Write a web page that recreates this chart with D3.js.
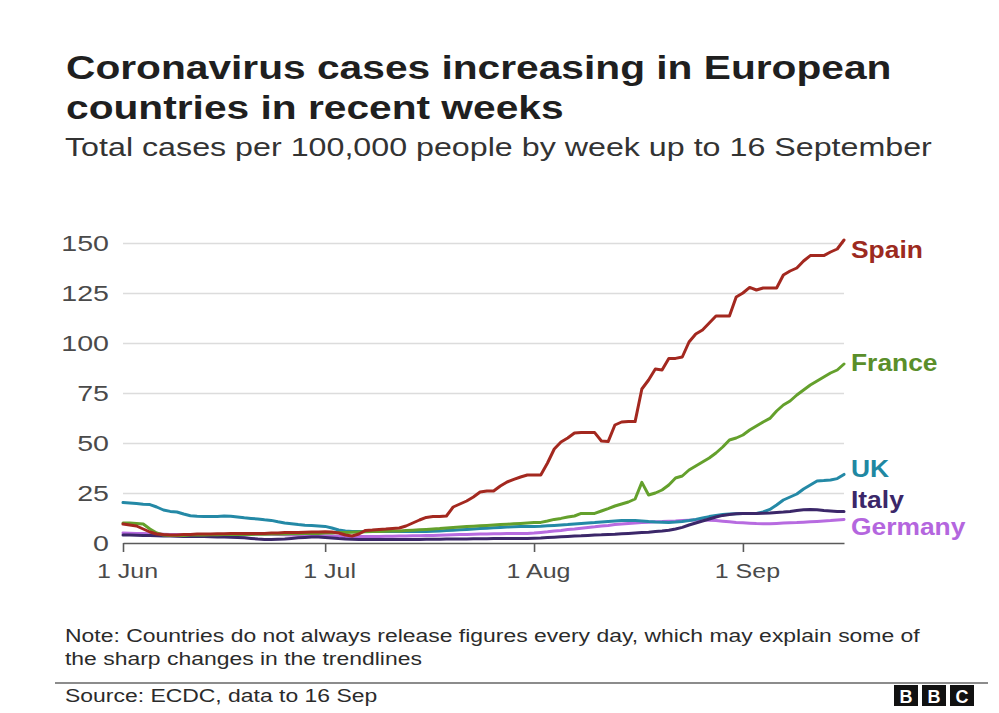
<!DOCTYPE html>
<html>
<head>
<meta charset="utf-8">
<script src="https://cdn.jsdelivr.net/npm/d3@7"></script>
<style>
    body { margin: 0; background: #fff; }
    svg text { font-family: "Liberation Sans", Arial, Helvetica, sans-serif; }
</style>
</head>
<body>
<div class="line-chart"></div>
<script>
// DATA ------------------------------------

// daily values, 1 Jun to 16 Sep 2020 (cases per 100,000, 14-day total)
const startDay = "2020-06-01"
const endDay = "2020-09-16"

const spain = [
    9.5, 9, 8.5, 7, 5.5, 4.5, 4.2, 4, 4, 4.2, 4.3, 4.5, 4.5, 4.5, 4.6, 4.6, 4.8, 4.8, 4.8, 4.7, 4.7, 4.8, 5, 5, 5.2, 5.2, 5.3, 5.4, 5.5, 5.5,
    5.6, 5.5, 5, 4, 3.5, 4.5, 6.3, 6.5, 6.8, 7, 7.3, 7.5, 8.5, 10, 11.5, 12.8, 13.2, 13.3, 13.5, 18, 19.5, 21, 23, 25.5, 26, 26, 28.5, 30.5, 31.8, 33, 34,
    34, 34, 40, 47, 50.5, 52.5, 55, 55.2, 55.2, 55.2, 51, 50.7, 59, 60.5, 60.7, 60.7, 77, 81.5, 87, 86.5, 92.3, 92.3, 93, 100.5, 104.5, 106.5, 110, 113.5, 113.5, 113.5, 123,
    125, 127.8, 126.5, 127.5, 127.5, 127.5, 134, 136, 137.5, 141, 143.7, 143.7, 143.7, 145.5, 147, 151.5
]
const france = [
    10, 10, 9.8, 9.5, 7, 5, 4, 3.8, 3.8, 3.8, 4, 4, 4, 4.1, 4.1, 4.2, 4.2, 4.3, 4.3, 4.3, 4.4, 4.4, 4.5, 4.5, 4.5, 4.6, 4.6, 4.7, 4.8, 4.8,
    5, 5, 5.2, 5.3, 5.4, 5.5, 5.6, 5.7, 5.8, 5.9, 6, 6, 6.2, 6.4, 6.6, 6.8, 7, 7.2, 7.5, 7.8, 8, 8.2, 8.4, 8.6, 8.8, 9, 9.2, 9.4, 9.6, 9.8, 10,
    10.2, 10.3, 11, 11.8, 12.3, 13, 13.5, 14.8, 14.8, 14.8, 16, 17.2, 18.5, 19.5, 20.5, 22, 30.3, 24, 25, 26.5, 29, 32.5, 33.5, 36.5, 38.5, 40.5, 42.5, 45, 48, 51.5, 52.5,
    54, 56.5, 58.5, 60.5, 62.3, 66, 69, 71, 74, 76.5, 79, 81, 83, 85, 86.5, 89.5
]
const uk = [
    20.2, 20, 19.7, 19.4, 19.2, 18, 16.5, 15.8, 15.5, 14.5, 13.6, 13.4, 13.3, 13.2, 13.3, 13.5, 13.4, 13, 12.6, 12.3, 12, 11.6, 11.3, 10.6, 10, 9.6, 9.2, 8.9, 8.7, 8.5,
    8.3, 7.5, 6.5, 6, 5.8, 5.8, 5.8, 5.8, 5.7, 5.7, 5.7, 5.7, 5.7, 5.7, 5.7, 5.8, 5.9, 6, 6.2, 6.4, 6.6, 6.8, 7, 7.2, 7.4, 7.6, 7.8, 8, 8.1, 8.2, 8.2,
    8.3, 8.4, 8.6, 8.8, 9, 9.2, 9.5, 9.8, 10, 10.2, 10.5, 10.8, 11, 11.2, 11.3, 11.2, 11, 10.7, 10.5, 10.4, 10.3, 10.5, 10.8, 11.2, 11.8, 12.5, 13.2, 13.8, 14.2, 14.5, 14.6,
    14.7, 14.8, 14.8, 15.5, 16.8, 19, 21.5, 23, 24.5, 27, 29, 31, 31.2, 31.5, 32.2, 34.3
]
const italy = [
    4, 4, 3.9, 3.8, 3.7, 3.6, 3.5, 3.5, 3.4, 3.3, 3.3, 3.2, 3.2, 3.1, 3, 3, 2.9, 2.8, 2.6, 2.3, 2, 1.8, 1.8, 1.9, 2, 2.3, 2.6, 2.8, 3, 3,
    2.8, 2.5, 2.2, 2, 1.9, 1.8, 1.8, 1.8, 1.8, 1.8, 1.8, 1.8, 1.8, 1.8, 1.8, 1.9, 1.9, 1.9, 2, 2, 2, 2, 2.1, 2.1, 2.1, 2.2, 2.2, 2.2, 2.3, 2.3, 2.3,
    2.4, 2.5, 2.7, 2.9, 3.1, 3.3, 3.5, 3.6, 3.8, 4, 4.1, 4.3, 4.4, 4.6, 4.8, 5, 5.2, 5.4, 5.7, 6, 6.4, 7, 7.8, 9, 10, 11, 12, 13, 13.8, 14.3, 14.6,
    14.7, 14.8, 14.8, 14.9, 15, 15.3, 15.5, 15.8, 16.2, 16.6, 16.8, 16.6, 16.2, 16, 15.8, 15.7
]
const germany = [
    5, 4.9, 4.8, 4.7, 4.6, 4.5, 4.4, 4.3, 4.2, 4.1, 4, 4, 3.9, 3.9, 3.8, 3.8, 3.8, 3.9, 4, 4.3, 4.5, 4.5, 4.4, 4.3, 4.1, 4, 3.9, 3.8, 3.7, 3.6,
    3.6, 3.5, 3.4, 3.3, 3.3, 3.3, 3.3, 3.3, 3.3, 3.4, 3.4, 3.5, 3.5, 3.6, 3.6, 3.7, 3.8, 3.9, 4, 4.1, 4.2, 4.3, 4.4, 4.5, 4.5, 4.6, 4.6, 4.7, 4.7, 4.8, 4.8,
    5, 5.3, 5.6, 6, 6.3, 6.7, 7, 7.4, 7.8, 8.1, 8.5, 8.8, 9.2, 9.5, 9.8, 10, 10.2, 10.4, 10.6, 10.7, 10.9, 11, 11.2, 11.4, 11.5, 11.5, 11.4, 11.2, 10.9, 10.6, 10.3,
    10.1, 9.9, 9.7, 9.6, 9.6, 9.8, 10, 10.1, 10.2, 10.4, 10.6, 10.8, 11, 11.2, 11.5, 11.8
]

// drawn back to front
const countries = ["Germany", "UK", "Italy", "France", "Spain"]
const seriesValues = [germany, uk, italy, france, spain]
const colors = ["#b76be0", "#2489a6", "#3b2769", "#64a02c", "#a3281f"]
const labelColors = ["#b466de", "#1f88a2", "#3b2769", "#5a8e2a", "#9c2a20"]

const yTicks = [0, 25, 50, 75, 100, 125, 150]
const xTicks = ["2020-06-01", "2020-07-01", "2020-08-01", "2020-09-01"]

const titleLines = ["Coronavirus cases increasing in European", "countries in recent weeks"]
const subtitle = "Total cases per 100,000 people by week up to 16 September"
const noteLines = ["Note: Countries do not always release figures every day, which may explain some of",
    "the sharp changes in the trendlines"]
const source = "Source: ECDC, data to 16 Sep"

// CHART INIT ------------------------------

const W = 999
const H = 713
const margin = {top: 243, right: 155, bottom: 170, left: 123}
const width = W - margin.left - margin.right
const height = H - margin.top - margin.bottom

// the original's lettering is wider than Arial, so text gets stretched sideways
const SX = 1.24

const parseDay = d3.utcParse("%Y-%m-%d")
const days = d3.utcDay.range(parseDay(startDay), d3.utcDay.offset(parseDay(endDay), 1))

const svg_base = d3.select(".line-chart").append("svg")
        .attr("width", W)
        .attr("height", H)
        .style("display", "block")
const svg = svg_base.append("g")
        .attr("transform", `translate(${margin.left},${margin.top})`)

const xScale = d3.scaleUtc()
    .domain([days[0], days[days.length - 1]])
    .range([0, width])

const yScale = d3.scaleLinear()
    .domain([0, 150])
    .range([height, 0])

function addText(g, str, x, y, size, weight, fill, sx) {
    return g.append("text")
        .attr("transform", `translate(${x},${y}) scale(${sx},1)`)
        .style("font-size", size + "px")
        .style("font-weight", weight)
        .attr("fill", fill)
        .text(str)
}

// HEADER ----------------------------------
titleLines.forEach((t, i) => addText(svg_base, t, 66, 79 + i * 40, 33.5, "bold", "#1f1f1f", 1.215))
addText(svg_base, subtitle, 65, 156, 26, "normal", "#333", SX)

// AXES ------------------------------------
const sxTick = 1.3
const yAx = d3.axisLeft(yScale)
    .tickValues(yTicks)
    .tickSize(-width)
    .tickPadding(14)

const yGroup = svg.append("g")
        .attr("class", "y-axis")
        .call(yAx)
yGroup.select(".domain").remove()
yGroup.selectAll(".tick line")
        .attr("stroke", "#dcdcdc")
        .attr("stroke-width", 1.5)
        .filter(d => d === 0).remove()
yGroup.selectAll(".tick text")
        .attr("x", -14 / sxTick)
        .attr("transform", `scale(${sxTick},1)`)
        .attr("fill", "#4a4a4a")
        .style("font-size", "22px")

const xAx = d3.axisBottom(xScale)
    .tickValues(xTicks.map(parseDay))
    .tickFormat(d3.utcFormat("%-d %b"))
    .tickSize(9)
    .tickSizeOuter(0)
    .tickPadding(12)

const xGroup = svg.append("g")
        .attr("class", "x-axis")
        .attr("transform", `translate(0,${height})`)
        .call(xAx)
xGroup.select(".domain")
        .attr("stroke", "#5a5a5a")
        .attr("stroke-width", 1.6)
xGroup.selectAll(".tick line")
        .attr("stroke", "#5a5a5a")
        .attr("stroke-width", 1.6)
xGroup.selectAll(".tick text")
        .attr("x", 4 / 1.25)
        .attr("transform", "scale(1.25,1)")
        .attr("fill", "#4a4a4a")
        .style("font-size", "20px")

// LINES -----------------------------------
const series = countries.map((c, i) => ({
    name: c,
    color: colors[i],
    labelColor: labelColors[i],
    values: seriesValues[i].map((v, j) => ({date: days[j], value: v}))
}))

const line = d3.line()
    .x(d => xScale(d.date))
    .y(d => yScale(d.value))

svg.selectAll("path.country")
    .data(series)
    .join("path")
        .attr("class", "country")
        .attr("fill", "none")
        .attr("stroke", d => d.color)
        .attr("stroke-width", 3)
        .attr("stroke-linejoin", "round")
        .attr("stroke-linecap", "round")
        .attr("d", d => line(d.values))

// end labels, nudged apart where the lines bunch up
const labelNudge = {Spain: 10, France: -1, UK: -6, Italy: -12, Germany: 7}
series.forEach(s => {
    const last = s.values[s.values.length - 1]
    addText(svg, s.name, width + 7, yScale(last.value) + labelNudge[s.name], 24, "bold", s.labelColor, 1.1)
        .attr("dy", "0.35em")
})

// FOOTER ----------------------------------
noteLines.forEach((t, i) => addText(svg_base, t, 65, 642 + i * 23, 18.5, "normal", "#2b2b2b", SX))

svg_base.append("line")
    .attr("x1", 55).attr("x2", 988)
    .attr("y1", 683).attr("y2", 683)
    .attr("stroke", "#8c8c8c")
    .attr("stroke-width", 2)

addText(svg_base, source, 65, 702, 18.5, "normal", "#2b2b2b", SX)

const logo = svg_base.append("g").attr("transform", "translate(894,685)")
const logoLetters = ["B", "B", "C"]
logoLetters.forEach((l, i) => {
    logo.append("rect")
        .attr("x", i * 28).attr("y", 0)
        .attr("width", 24).attr("height", 21)
        .attr("fill", "#111")
    logo.append("text")
        .attr("x", i * 28 + 12).attr("y", 17.5)
        .attr("text-anchor", "middle")
        .style("font-size", "18px")
        .style("font-weight", "bold")
        .attr("fill", "#fff")
        .text(l)
})
</script>
</body>
</html>
